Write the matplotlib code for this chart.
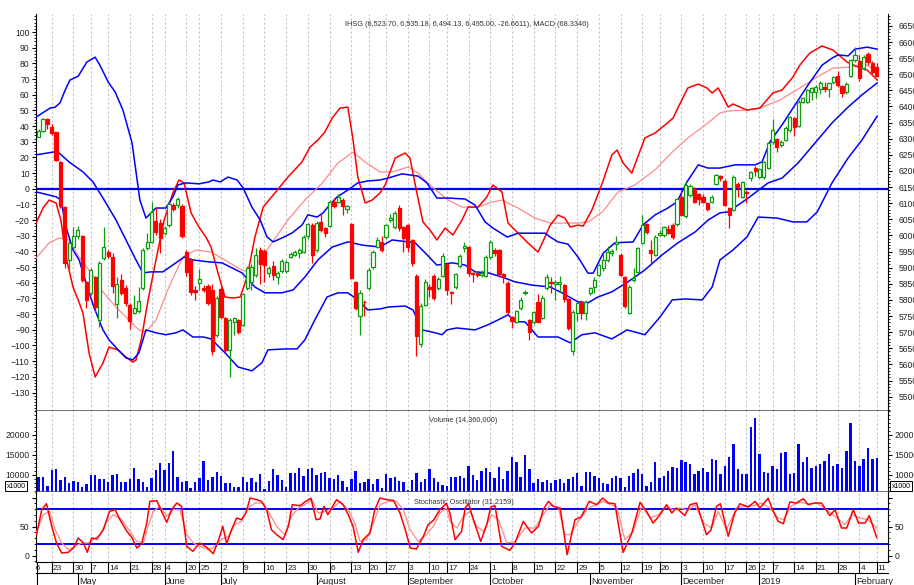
import numpy as np
import pandas as pd
import matplotlib
matplotlib.use("Agg")
import matplotlib.pyplot as plt
from matplotlib.ticker import MultipleLocator, FixedLocator
from matplotlib.transforms import Bbox, blended_transform_factory
from matplotlib.lines import Line2D

plt.rcParams['font.family'] = ['Liberation Sans', 'DejaVu Sans']

W, H = 914, 585

# trading calendar (IDX holidays taken out)
holidays = ["2018-05-01", "2018-05-10", "2018-05-29", "2018-06-01",
            "2018-06-11", "2018-06-12", "2018-06-13", "2018-06-14", "2018-06-15",
            "2018-06-18", "2018-06-19", "2018-08-17", "2018-08-22", "2018-09-11",
            "2018-11-20", "2018-12-24", "2018-12-25", "2018-12-31", "2019-01-01",
            "2019-02-05"]
days = pd.bdate_range("2018-04-18", "2019-02-11")
days = days[~days.isin(pd.to_datetime(holidays))]

# IHSG daily OHLC
opens = [6306, 6325, 6361, 6337, 6320, 6229, 6089, 5924, 5964, 5998,
         5998, 5857, 5820, 5870, 5737, 5930, 5950, 5934, 5786, 5863,
         5838, 5785, 5760, 5766, 5837, 5961, 5981, 6045, 6040, 6007,
         6033, 6095, 6093, 6092, 5950, 5924, 5831, 5852, 5838, 5842,
         5831, 5692, 5833, 5743, 5645, 5730, 5738, 5722, 5836, 5857,
         5878, 5955, 5952, 5883, 5905, 5872, 5890, 5891, 5934, 5940,
         5947, 5950, 5998, 6033, 5955, 6043, 6022, 6030, 6105, 6105,
         6110, 6083, 6036, 5857, 5750, 5795, 5836, 5903, 5965, 5981,
         5996, 6047, 6027, 6084, 6027, 6033, 5986, 5875, 5664, 5785,
         5840, 5873, 5836, 5875, 5912, 5825, 5839, 5904, 5960, 5965,
         5885, 5883, 5878, 5875, 5934, 5955, 5955, 5881, 5854, 5746,
         5733, 5774, 5820, 5738, 5730, 5792, 5743, 5836, 5857, 5850,
         5850, 5847, 5802, 5640, 5759, 5795, 5759, 5821, 5841, 5878,
         5898, 5924, 5946, 5974, 5940, 5872, 5759, 5862, 5888, 5978,
         6036, 5955, 5940, 6002, 6002, 6019, 6033, 6036, 6120, 6060,
         6126, 6143, 6129, 6120, 6102, 6105, 6160, 6185, 6170, 6084,
         6079, 6160, 6120, 6136, 6177, 6210, 6182, 6180, 6208, 6291,
         6298, 6280, 6296, 6327, 6363, 6339, 6415, 6415, 6446, 6446,
         6453, 6462, 6453, 6477, 6494, 6463, 6446, 6494, 6544, 6542,
         6518, 6562, 6534, 6523.70]
highs = [6329, 6363, 6365, 6345, 6322, 6232, 6092, 5985, 6025, 6028,
         6000, 5860, 5898, 5875, 5922, 6027, 5955, 5945, 5870, 5880,
         5845, 5790, 5815, 5840, 5962, 6007, 6105, 6085, 6050, 6030,
         6105, 6100, 6120, 6098, 5955, 5930, 5842, 5895, 5845, 5850,
         5850, 5812, 5840, 5748, 5745, 5746, 5742, 5822, 5905, 5910,
         5962, 5965, 5958, 5905, 5920, 5890, 5928, 5925, 5948, 5955,
         5962, 6000, 6040, 6040, 6045, 6068, 6025, 6110, 6115, 6128,
         6115, 6095, 6040, 5860, 5830, 5800, 5900, 5955, 5995, 5997,
         6035, 6068, 6075, 6095, 6030, 6035, 5990, 5880, 5790, 5865,
         5850, 5880, 5870, 5945, 5915, 5828, 5885, 5942, 5980, 5968,
         5888, 5890, 5892, 5940, 5985, 5960, 5958, 5885, 5858, 5750,
         5770, 5808, 5830, 5740, 5766, 5818, 5815, 5880, 5870, 5862,
         5875, 5850, 5805, 5768, 5795, 5800, 5800, 5840, 5870, 5912,
         5945, 5966, 5958, 5998, 5945, 5875, 5845, 5898, 5965, 6064,
         6040, 5985, 6000, 6018, 6030, 6033, 6040, 6115, 6145, 6165,
         6160, 6150, 6133, 6128, 6105, 6124, 6190, 6188, 6175, 6088,
         6188, 6167, 6170, 6140, 6200, 6215, 6208, 6232, 6290, 6360,
         6302, 6295, 6338, 6370, 6368, 6420, 6430, 6455, 6460, 6468,
         6480, 6475, 6476, 6495, 6510, 6468, 6475, 6548, 6585, 6560,
         6560, 6570, 6540, 6535.18]
lows = [6304, 6322, 6330, 6312, 6230, 6085, 5898, 5893, 5955, 5990,
        5855, 5774, 5815, 5762, 5717, 5925, 5930, 5820, 5745, 5815,
        5780, 5710, 5755, 5758, 5830, 5955, 5978, 6000, 5945, 6000,
        6025, 6075, 6085, 5992, 5873, 5815, 5800, 5830, 5825, 5785,
        5630, 5685, 5740, 5635, 5562, 5692, 5695, 5718, 5830, 5832,
        5870, 5850, 5855, 5870, 5862, 5850, 5885, 5885, 5930, 5935,
        5930, 5945, 5990, 5914, 5950, 6010, 5996, 6025, 6085, 6100,
        6064, 6069, 5865, 5770, 5690, 5750, 5830, 5895, 5960, 5950,
        5990, 6043, 6020, 6015, 5950, 5950, 5905, 5625, 5655, 5780,
        5810, 5800, 5830, 5870, 5815, 5787, 5835, 5900, 5950, 5875,
        5857, 5872, 5870, 5870, 5928, 5935, 5870, 5854, 5755, 5712,
        5728, 5770, 5815, 5676, 5725, 5730, 5740, 5830, 5820, 5800,
        5826, 5795, 5708, 5630, 5735, 5740, 5738, 5815, 5820, 5873,
        5890, 5918, 5935, 5955, 5873, 5775, 5755, 5857, 5883, 5972,
        6005, 5914, 5935, 5998, 5995, 6005, 5990, 6030, 6060, 6055,
        6120, 6100, 6095, 6100, 6075, 6100, 6155, 6170, 6090, 6022,
        6075, 6120, 6115, 6100, 6170, 6185, 6178, 6175, 6205, 6285,
        6260, 6275, 6292, 6322, 6308, 6335, 6410, 6410, 6420, 6425,
        6440, 6445, 6430, 6470, 6460, 6430, 6440, 6490, 6538, 6480,
        6512, 6530, 6500, 6494.13]
closes = [6325, 6360, 6345, 6317, 6234, 6091, 5914, 5976, 5999, 6018,
          5862, 5800, 5892, 5779, 5914, 5965, 5937, 5842, 5849, 5822,
          5790, 5735, 5775, 5797, 5955, 5981, 6072, 6010, 5992, 6022,
          6098, 6082, 6112, 5998, 5888, 5826, 5824, 5864, 5831, 5790,
          5640, 5805, 5748, 5645, 5738, 5743, 5700, 5818, 5898, 5903,
          5940, 5912, 5908, 5900, 5876, 5885, 5920, 5919, 5943, 5950,
          5955, 5996, 6036, 5940, 6040, 6017, 6007, 6105, 6092, 6120,
          6092, 6091, 5867, 5774, 5821, 5792, 5893, 5950, 5986, 5955,
          6033, 6053, 6071, 6022, 5991, 5965, 5914, 5689, 5782, 5857,
          5835, 5805, 5865, 5937, 5831, 5820, 5881, 5937, 5966, 5883,
          5881, 5878, 5885, 5934, 5981, 5947, 5881, 5871, 5761, 5736,
          5767, 5800, 5825, 5702, 5761, 5733, 5805, 5870, 5851, 5856,
          5857, 5802, 5712, 5761, 5790, 5759, 5795, 5836, 5862, 5909,
          5924, 5950, 5952, 5979, 5878, 5780, 5841, 5867, 5960, 6033,
          6012, 5946, 5996, 6009, 6027, 6009, 5996, 6112, 6064, 6157,
          6153, 6105, 6113, 6105, 6081, 6120, 6186, 6177, 6095, 6064,
          6182, 6150, 6167, 6131, 6198, 6200, 6205, 6229, 6286, 6327,
          6275, 6290, 6334, 6366, 6337, 6415, 6425, 6451, 6456, 6462,
          6474, 6453, 6472, 6490, 6467, 6441, 6470, 6544, 6560, 6487,
          6554, 6539, 6508, 6495.00]

# Bollinger bands (price scale), read as vertices: trading-day position, value
bb_up_x = [-0.6, 2.6, 3.8, 4.9, 6.1, 7.2, 9.1, 11.1, 13.0, 14.1, 16.0, 17.6, 19.4, 21.5, 23.3,
           24.7, 25.9, 27.0, 29.3, 30.9, 32.1, 33.9, 36.9, 39.2, 40.1, 41.8, 43.6, 45.7, 47.1,
           49.1, 51.0, 52.6, 54.0, 56.0, 58.4, 60.7, 62.0, 64.1, 65.5, 66.6, 68.7, 71.2, 73.5,
           75.8, 78.6, 80.5, 83.7, 87.4, 89.4, 91.7, 94.3, 98.2, 100.5, 102.8, 104.6, 107.9,
           110.4, 113.6, 116.6, 117.8, 119.6, 121.9, 124.2, 126.5, 127.7, 130.0, 132.7, 136.9,
           139.2, 142.0, 144.9, 147.0, 149.3, 151.9, 154.1, 156.9, 160.4, 165.0, 166.6, 168.4,
           171.2, 174.2, 177.2, 180.4, 182.7, 184.1, 186.4, 188.0, 190.8, 193.1]
bb_up_y = [6367, 6395, 6398, 6411, 6451, 6482, 6494, 6538, 6553, 6528, 6476, 6445, 6389, 6287, 6110,
           6054, 6070, 6085, 6085, 6119, 6157, 6163, 6160, 6166, 6172, 6166, 6181, 6172, 6147,
           6088, 6048, 5995, 5980, 5992, 6008, 6033, 6064, 6057, 6070, 6088, 6119, 6141, 6163,
           6169, 6172, 6178, 6191, 6184, 6163, 6116, 6116, 6113, 6094, 6042, 6023, 5995,
           6007, 6007, 6007, 5995, 5980, 5973, 5933, 5883, 5883, 5945, 5977, 5980,
           6033, 6064, 6085, 6104, 6166, 6219, 6209, 6209, 6219, 6219, 6228, 6290,
           6343, 6405, 6467, 6528, 6550, 6560, 6557, 6578, 6584, 6578]
bb_mid_x = [-0.6, 3.5, 4.4, 7.0, 10.2, 12.5, 14.8, 17.8, 20.1, 22.4, 24.0, 25.9, 28.6, 31.6, 33.5,
            35.5, 39.2, 42.2, 46.8, 49.8, 52.1, 56.0, 58.6, 61.3, 64.3, 67.6, 71.2, 74.5, 78.6,
            81.4, 85.1, 86.7, 89.0, 91.7, 95.2, 98.2, 100.5, 103.5, 106.7, 109.7, 113.6, 117.8,
            120.5, 124.2, 126.5, 128.8, 132.0, 135.7, 139.6, 143.6, 147.2, 151.2, 154.2, 156.9,
            158.8, 163.4, 168.0, 171.2, 174.9, 178.8, 182.7, 186.4, 189.6, 193.1]
bb_mid_y = [6250, 6259, 6259, 6228, 6197, 6166, 6116, 6048, 5986, 5924, 5884, 5887, 5887, 5915, 5933,
            5924, 5918, 5915, 5884, 5840, 5822, 5822, 5831, 5871, 5924, 5964, 5980, 5970, 5964,
            5986, 5980, 5977, 5946, 5908, 5915, 5908, 5887, 5884, 5871, 5856, 5846, 5840,
            5822, 5794, 5791, 5809, 5825, 5856, 5893, 5940, 5977, 6011, 6048, 6070,
            6073, 6116, 6163, 6178, 6225, 6287, 6349, 6398, 6436, 6473]
bb_lo_x = [-0.6, 4.0, 5.1, 6.3, 7.9, 9.3, 10.9, 12.7, 14.8, 16.2, 18.3, 20.1, 21.7, 23.1, 24.7,
           27.0, 29.3, 31.6, 33.2, 35.5, 37.9, 39.7, 40.6, 42.9, 45.9, 49.1, 51.4, 52.8, 56.7,
           59.5, 61.3, 63.6, 66.4, 68.9, 71.2, 73.5, 75.8, 78.6, 80.5, 84.4, 86.2, 88.3, 91.3,
           92.9, 94.0, 96.3, 100.5, 103.5, 105.8, 108.1, 109.7, 112.0, 115.0, 117.8, 119.6,
           122.4, 125.1, 128.1, 132.0, 135.5, 139.6, 143.1, 145.9, 148.9, 152.8, 155.1, 156.9,
           159.9, 163.1, 165.7, 170.0, 173.7, 176.9, 179.3, 182.7, 186.4, 189.6, 193.1]
bb_lo_y = [6135, 6120, 6110, 6026, 5955, 5924, 5853, 5778, 5707, 5676, 5645, 5620, 5614, 5636, 5707,
           5698, 5692, 5698, 5707, 5685, 5685, 5679, 5667, 5636, 5592, 5580, 5605, 5645, 5648,
           5648, 5676, 5738, 5809, 5822, 5822, 5800, 5769, 5772, 5778, 5781, 5769, 5707, 5698,
           5692, 5707, 5713, 5707, 5723, 5738, 5754, 5732, 5732, 5685, 5685, 5685,
           5667, 5692, 5698, 5679, 5707, 5692, 5747, 5800, 5803, 5800, 5840, 5924,
           5955, 5995, 6057, 6054, 6042, 6042, 6073, 6163, 6240, 6296, 6370]

# MACD and signal (left scale)
macd_x = [-0.6, 1.0, 2.4, 4.0, 5.1, 6.3, 7.9, 9.1, 10.2, 11.6, 13.0, 14.8, 16.2, 18.3, 20.1, 21.7,
          22.4, 23.6, 25.2, 27.0, 28.9, 30.9, 32.3, 33.5, 35.1, 36.9, 38.5, 39.7, 41.3, 42.9,
          44.8, 46.4, 48.0, 49.8, 51.7, 54.4, 57.4, 60.6, 62.5, 64.3, 65.9, 67.6, 69.4, 71.2,
          72.4, 73.5, 75.2, 76.8, 78.6, 79.8, 82.1, 84.4, 85.5, 87.1, 88.5, 90.1, 91.7, 93.6,
          95.4, 97.5, 98.9, 101.2, 103.2, 104.6, 106.7, 108.1, 110.4, 112.7, 115.0, 116.6,
          117.8, 119.6, 121.2, 122.4, 124.2, 125.4, 127.4, 129.8, 132.0, 133.2, 134.6, 136.6,
          139.6, 141.9, 144.2, 146.1, 147.2, 149.5, 151.9, 153.9, 155.1, 156.5, 158.8, 159.9,
          163.1, 166.1, 169.1, 171.2, 173.7, 175.3, 177.6, 180.4, 182.9, 186.2, 188.7, 190.8, 193.1]
macd_y = [-21.9, -12.3, -7.2, -9.1, -19.9, -43.6, -62.7, -71.0, -79.3, -104.8, -120.1, -111.2,
          -101.0, -102.9, -107.4, -110.6, -109.3, -96.5, -71.0, -45.5, -19.9, -2.7, 5.6, 3.6,
          -15.5, -24.4, -30.8, -37.2, -53.8, -69.1, -69.7, -69.1, -56.3, -30.8, -11.7, -2.7,
          7.5, 17.0, 26.6, 31.1, 36.2, 45.1, 51.5, 52.1, 31.1, 7.5, -9.1, -7.2, -2.7, 2.4,
          19.6, 22.8, 19.6, -2.7, -21.2, -26.3, -32.7, -25.1, -29.5, -19.9, -11.7, -11.7,
          -5.3, 2.4, -2.1, -21.9, -28.3, -34.6, -40.4, -30.8, -23.2, -16.8, -18.7, -24.4,
          -23.2, -23.8, -13.6, 3.6, 21.5, 24.7, 16.4, 10.0, 32.4, 35.5, 40.6, 45.1, 51.5,
          64.3, 66.8, 64.3, 61.1, 64.3, 52.1, 54.1, 50.2, 51.5, 61.1, 63.0, 71.3, 78.9,
          86.6, 91.1, 88.5, 80.8, 77.7, 75.7, 69.4]
sig_x = [-0.6, 2.4, 4.7, 7.0, 9.3, 12.1, 14.8, 17.8, 20.8, 23.1, 24.7, 27.0, 30.0, 33.2, 36.2,
         39.7, 42.9, 46.8, 48.7, 51.0, 53.7, 57.4, 61.3, 65.3, 68.9, 72.4, 75.2, 78.6, 81.4,
         85.1, 87.4, 90.6, 94.3, 97.5, 101.2, 104.4, 106.7, 110.4, 114.3, 117.8, 120.5, 124.2,
         126.5, 129.8, 133.4, 137.3, 141.9, 145.9, 149.5, 153.5, 156.9, 158.5, 163.1, 166.1,
         170.7, 175.3, 179.3, 182.9, 186.9, 190.8, 193.1]
sig_y = [-44.2, -34.6, -31.4, -32.7, -43.6, -53.8, -65.9, -75.5, -83.8, -90.1, -91.4, -83.8,
         -62.7, -43.6, -39.1, -40.4, -45.5, -51.9, -53.1, -45.5, -34.6, -19.9, -7.2, 3.6, 16.4,
         23.4, 17.0, 10.7, 10.7, 13.9, 10.0, 1.1, -7.2, -11.7, -11.7, -8.5, -7.2, -12.3, -18.7,
         -21.9, -21.9, -21.9, -21.2, -14.9, -2.1, 2.4, 11.9, 23.4, 32.4, 40.6, 48.3, 49.6,
         50.2, 51.5, 56.6, 64.3, 71.3, 77.0, 77.7, 78.9, 74.5]

# volume, thousands of shares
volume = [9500, 9500, 7200, 11300, 11500, 8800, 9400, 8100, 8600, 8300,
          7000, 7700, 10100, 10100, 9100, 8900, 8300, 9900, 10300, 8200,
          8200, 9000, 11700, 9100, 8300, 7000, 9300, 11300, 12900, 11300,
          13100, 16100, 9600, 8200, 8400, 6800, 8300, 9300, 13400, 8800,
          9500, 10700, 9700, 8000, 8100, 7100, 6900, 9600, 8300, 9300,
          8300, 10200, 6600, 8600, 11400, 9900, 8700, 7000, 10500, 10600,
          11700, 9800, 11400, 11800, 10000, 10500, 10800, 9300, 9000, 10000,
          8400, 7000, 8900, 11100, 8100, 8300, 9000, 7800, 8900, 6800,
          10300, 9200, 9400, 8600, 8300, 6200, 8700, 10400, 8200, 9100,
          11500, 9200, 8200, 7600, 7200, 9400,
          9590, 9760, 9340, 12260, 10010, 8760, 11010, 11760, 10840, 9170,
          11920, 8920, 11010, 14590, 13170, 9510, 15010, 11420, 7920, 8920,
          8340, 8760, 7920, 8760, 8920, 8090, 8920, 9590, 10590, 7260,
          10840, 10840, 9760, 9340, 7920, 7760, 9340, 9760, 9340, 7090,
          9760, 10590, 11420, 10260, 7260, 8340, 13170, 9170, 9760, 11010,
          11920, 11840, 13760, 13170, 12760, 10260, 11090, 11670, 10840, 13920,
          13760, 10260, 12260, 14590, 17670, 11420, 10260, 10260, 22090, 24330,
          15260, 10840, 10590, 12260, 11420, 15590, 15840, 10260, 10420, 17670,
          13340, 14420, 11670, 12260, 12760, 13590, 15260, 12340, 12760, 11840,
          16010, 23090, 13590, 12260, 14010, 16840, 14010, 14360]

# stochastic oscillator %K and %D
k_x = [-0.5, 0.7, 1.8, 3.0, 4.1, 5.3, 6.8, 8.0, 9.1, 10.3, 11.2, 12.2, 13.4, 14.9, 16.3, 17.6,
       18.7, 20.3, 21.4, 22.6, 23.7, 24.9, 25.6, 27.2, 28.3, 29.5, 30.6, 31.8, 32.9, 34.1,
       35.5, 36.4, 37.1, 38.7, 40.2, 41.4, 42.4, 43.3, 44.4, 45.6, 46.7, 47.7, 48.7, 50.2,
       51.3, 52.5, 53.6, 54.8, 56.3, 57.5, 58.4, 60.2, 61.5, 62.7, 63.9, 64.8, 65.7, 66.6,
       67.8, 68.6, 70.1, 71.3, 72.4, 73.6, 74.7, 76.3, 77.4, 78.6, 80.1, 81.7, 83.2, 84.3,
       85.6, 87.0, 88.6, 89.7, 90.9, 92.4, 93.9, 94.7, 95.9, 97.4, 98.2, 99.0, 100.1, 101.8,
       103.2, 104.1, 105.1, 106.6, 108.5, 109.7, 111.6, 113.5, 115.1, 116.2, 117.4, 118.5,
       120.1, 121.7, 123.5, 124.9, 126.8, 128.5, 129.9, 131.2, 132.7, 134.6, 136.6, 138.5,
       140.0, 141.5, 143.1, 144.6, 145.8, 146.9, 148.8, 150.0, 151.5, 153.8, 154.8, 156.1,
       157.0, 158.8, 160.3, 161.5, 163.4, 165.0, 166.1, 168.0, 169.2, 170.3, 171.5, 173.0,
       174.5, 176.1, 177.2, 178.8, 180.3, 182.2, 183.4, 184.9, 186.1, 187.6, 188.8, 190.3,
       191.3, 193.0]
k_y = [36.2, 79.3, 89.6, 50.6, 21.9, 4.6, 5.8, 13.2, 30.5, 21.9, 5.8, 30.5, 28.7, 44.8, 76.4, 79.3,
       62.1, 42.0, 32.2, 13.2, 20.7, 56.3, 93.7, 94.8, 76.4, 57.5, 79.3, 90.8, 85.1, 16.1,
       7.5, 16.1, 21.9, 14.4, 3.5, 26.5, 50.6, 20.7, 44.8, 65.0, 62.1, 73.6, 99.4, 96.6,
       93.7, 79.3, 44.8, 36.2, 27.6, 50.6, 87.9, 86.2, 93.7, 99.0, 62.1, 63.2, 85.1, 70.7,
       86.2, 96.6, 87.9, 70.7, 50.6, 5.8, 27.6, 39.1, 79.3, 99.4, 96.6, 95.4, 73.6, 47.7,
       13.2, 11.5, 33.4, 53.5, 60.9, 79.3, 90.0, 73.6, 27.6, 42.0, 82.2, 89.6, 62.1, 24.7,
       53.5, 83.9, 86.2, 16.1, 9.2, 21.9, 59.2, 39.1, 50.6, 79.3, 93.7, 85.1,
       82.2, 1.7, 62.1, 66.7, 93.7, 87.9, 99.4, 90.8, 89.6, 5.8, 39.1, 92.0,
       76.4, 56.3, 70.7, 87.9, 73.6, 82.2, 69.0, 87.9, 90.8, 36.2, 43.7, 85.1,
       89.6, 33.4, 73.6, 89.6, 83.9, 93.7, 82.2, 99.0, 76.4, 59.2, 55.2, 92.5,
       90.8, 98.3, 87.9, 90.8, 90.8, 69.0, 79.3, 47.7, 47.7, 79.3, 56.3, 56.3,
       69.0, 31.2]
d_x = [-0.5, 1.1, 2.5, 3.8, 5.3, 6.8, 8.4, 9.9, 11.4, 12.6, 14.1, 15.7, 17.2, 19.1, 21.0, 22.6,
       24.1, 25.2, 26.4, 27.9, 29.5, 31.0, 32.5, 34.1, 35.6, 37.1, 39.1, 40.6, 42.1, 43.7,
       45.2, 46.7, 48.3, 49.8, 51.7, 53.3, 54.8, 56.7, 58.2, 59.8, 61.3, 62.9, 64.4, 65.9,
       67.8, 69.4, 71.3, 72.8, 74.0, 75.5, 77.1, 78.6, 80.5, 82.4, 84.0, 85.5, 87.4, 89.3,
       90.9, 92.4, 93.9, 94.7, 96.3, 97.8, 99.3, 100.9, 102.4, 104.3, 105.9, 107.8, 109.7,
       112.0, 114.3, 116.2, 117.8, 119.7, 121.2, 122.4, 124.3, 126.6, 128.5, 130.0, 131.6,
       133.1, 135.0, 136.9, 138.9, 140.8, 142.7, 144.6, 146.1, 147.7, 149.6, 151.1, 153.1,
       155.0, 156.5, 158.4, 160.7, 162.6, 164.6, 166.5, 168.4, 170.3, 171.5, 173.4, 175.3,
       177.2, 179.2, 181.5, 183.8, 185.7, 187.2, 189.1, 191.0, 193.0]
d_y = [42.0, 70.7, 76.4, 44.8, 21.9, 10.4, 16.1, 21.9, 21.9, 27.6, 36.2, 59.2, 70.7, 62.1, 42.0,
       24.7, 21.9, 50.6, 76.4, 85.1, 67.8, 79.3, 79.3, 36.2, 21.9, 16.1, 10.4, 16.1, 27.6,
       33.4, 53.5, 59.2, 82.2, 90.8, 90.8, 70.7, 50.6, 36.2, 67.8, 82.2, 87.9, 96.6, 73.6,
       76.4, 82.2, 93.7, 79.3, 56.3, 24.7, 27.6, 56.3, 87.9, 93.7, 93.7, 79.3, 44.8, 24.7,
       36.2, 50.6, 73.6, 82.2, 59.2, 47.7, 67.8, 76.4, 50.6, 42.0, 70.7, 62.1, 21.9, 24.7,
       47.7, 47.7, 70.7, 87.9, 82.2, 36.2, 36.2, 59.2, 82.2, 87.9, 93.7, 87.9, 85.1, 27.6,
       42.0, 85.1, 65.0, 70.7, 85.1, 79.3, 82.2, 78.2, 87.9, 56.3, 47.7, 76.4, 44.8, 82.2,
       85.1, 86.2, 90.8, 82.2, 65.0, 62.1, 86.2, 92.0, 89.6, 90.8, 79.3, 65.0, 53.5, 70.7,
       65.0, 62.1, 47.7]

month_names = ["May", "June", "July", "August", "September", "October",
               "November", "December", "2019", "February"]

n = len(days)
x = np.arange(n)
o = np.array(opens); hi = np.array(highs); lo = np.array(lows); c = np.array(closes)

blue = '#0000ff'
red = '#ff0000'
green = '#0c9c0c'
grid_c = '#c4c4c4'
txt_c = '#222222'
fs = 6.2


def rect(x0, y0, x1, y1):
    return [x0 / W, 1 - y1 / H, (x1 - x0) / W, (y1 - y0) / H]


fig = plt.figure(figsize=(W / 100, H / 100), dpi=100)
ax_m = fig.add_axes(rect(36, 14, 888, 411))
ax_p = ax_m.twinx()
ax_v = fig.add_axes(rect(36, 411, 888, 492))
ax_s = fig.add_axes(rect(36, 492, 888, 562))

xlim = (-0.62, 195.6)

# week starts (first trading day of each week), the first partial week is labelled separately
wk = pd.Series(np.arange(n), index=days)
iso = days.isocalendar()
week_start = [int(g.min()) for _, g in wk.groupby([iso.year.values, iso.week.values])]
week_start = [i for i in week_start if i > 0]
month_start = [int(g.min()) for _, g in wk.groupby([days.year, days.month])][1:]

for ax in (ax_m, ax_v, ax_s):
    ax.set_xlim(*xlim)
    for i in week_start:
        ax.axvline(i, color=grid_c, lw=0.8, ls=(0, (2, 2)), zorder=0)
    ax.set_xticks([])
    ax.spines['top'].set_visible(False)
    ax.tick_params(axis='y', which='both', direction='out', labelsize=fs,
                   labelcolor=txt_c, pad=1.5)
    ax.tick_params(axis='y', which='major', length=3)
    ax.tick_params(axis='y', which='minor', length=1.6)

# ---- main panel: MACD on left scale
ax_m.set_ylim(-141.8, 111.5)
ax_m.axhline(0, color=blue, lw=1.6, zorder=2)
ax_m.plot(sig_x, sig_y, color='#ff8a8a', lw=0.9, zorder=3)
ax_m.plot(macd_x, macd_y, color=red, lw=1.1, zorder=3)
ax_m.yaxis.set_major_locator(FixedLocator(list(range(-130, 101, 10))))
ax_m.yaxis.set_minor_locator(MultipleLocator(2))
ax_m.spines['right'].set_visible(False)
ax_m.spines['bottom'].set_color('#555555')
ax_m.spines['bottom'].set_linewidth(1.2)

# ---- main panel: price, bands and candles on right scale
ax_p.set_xlim(*xlim)
ax_p.set_ylim(5455.4, 6686.9)
ax_p.plot(bb_up_x, bb_up_y, color=blue, lw=1.1, zorder=3)
ax_p.plot(bb_mid_x, bb_mid_y, color=blue, lw=1.1, zorder=3)
ax_p.plot(bb_lo_x, bb_lo_y, color=blue, lw=1.1, zorder=3)
up = c >= o
edge = np.where(up, green, red)
face = np.where(up, 'white', red)
ax_p.vlines(x, lo, hi, colors=edge, lw=0.9, zorder=4)
ax_p.bar(x, np.maximum(np.abs(c - o), 3), bottom=np.minimum(o, c), width=0.72,
         color=face, edgecolor=edge, linewidth=0.9, zorder=5)
ax_p.yaxis.set_major_locator(FixedLocator(list(range(5500, 6651, 50))))
ax_p.yaxis.set_minor_locator(MultipleLocator(10))
ax_p.tick_params(axis='y', which='both', direction='out', labelsize=fs,
                 labelcolor=txt_c, pad=5)
ax_p.tick_params(axis='y', which='major', length=3)
ax_p.tick_params(axis='y', which='minor', length=1.6)
for s in ('top', 'left', 'bottom'):
    ax_p.spines[s].set_visible(False)

# ---- volume panel
ax_v.bar(x, volume, width=0.55, color=blue, zorder=2)
ax_v.set_ylim(5750, 26000)
ax_v.yaxis.set_major_locator(FixedLocator([10000, 15000, 20000]))
ax_v.yaxis.set_minor_locator(MultipleLocator(1000))
ax_v.tick_params(axis='y', which='both', right=True, labelright=True)
ax_v.spines['bottom'].set_color('#555555')
ax_v.spines['bottom'].set_linewidth(1.2)

# ---- stochastic panel
ax_s.set_ylim(-10.9, 109.8)
ax_s.axhline(80, color=blue, lw=1.4, zorder=2)
ax_s.axhline(20, color=blue, lw=1.4, zorder=2)
ax_s.plot(d_x, d_y, color='#ff8a8a', lw=0.9, zorder=3)
ax_s.plot(k_x, k_y, color=red, lw=1.1, zorder=3)
ax_s.yaxis.set_major_locator(FixedLocator([0, 50, 100]))
ax_s.set_yticklabels(['0', '50', ''])
ax_s.yaxis.set_minor_locator(MultipleLocator(10))
ax_s.tick_params(axis='y', which='both', right=True, labelright=True)

# ---- panel captions
tfs = 5.3
fig.text(345 / W, 1 - 24 / H, "IHSG (6,523.70, 6,535.18, 6,494.13, 6,495.00, -26.6611), MACD (68.3346)",
         fontsize=tfs, color='#333333', ha='left', va='center')
fig.text(429 / W, 1 - 420 / H, "Volume (14,360,000)", fontsize=tfs, color='#333333',
         ha='left', va='center')
fig.text(414 / W, 1 - 502 / H, "Stochastic Oscillator (31,2159)", fontsize=tfs, color='#333333',
         ha='left', va='center')
box = dict(boxstyle='square,pad=0.15', fc='white', ec='black', lw=0.7)
fig.text(16 / W, 1 - 486 / H, "x1000", fontsize=5.0, ha='center', va='center', bbox=box)
fig.text(901 / W, 1 - 486 / H, "x1000", fontsize=5.0, ha='center', va='center', bbox=box)

# ---- date axis under the panels
tr = blended_transform_factory(ax_s.transData, fig.transFigure)
clip = Bbox.from_extents(36, 0, 888, H)
fig.add_artist(Line2D([36 / W, 888 / W], [1 - 573 / H] * 2, color='black', lw=0.8))
fig.add_artist(Line2D([36.5 / W, 36.5 / W], [1 - 562 / H, 0], color='black', lw=0.8))
week_lab = [(-2, "16")] + [(i, str(days[i].day)) for i in week_start]
for i, lab in week_lab:
    ln = Line2D([i, i], [1 - 562 / H, 1 - 573 / H], transform=tr, color='black', lw=0.8)
    ln.set_clip_box(clip)
    fig.add_artist(ln)
    t = fig.text(i + 0.25, 1 - 570.5 / H, lab, transform=tr, fontsize=6.0, color=txt_c,
                 ha='left', va='baseline')
    t.set_clip_box(clip)
    t.set_clip_on(True)
for i, lab in zip(month_start, month_names):
    fig.add_artist(Line2D([i, i], [1 - 573 / H, 0], transform=tr, color='black', lw=0.8))
    fig.text(i + 0.25, 1 - 583.5 / H, lab, transform=tr, fontsize=6.6, color=txt_c,
             ha='left', va='baseline')

fig.savefig("out.png", dpi=100)
